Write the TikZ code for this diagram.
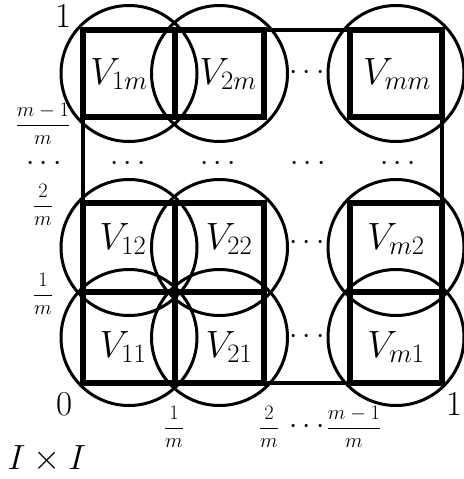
\RequirePackage{fix-cm}
\documentclass[tikz,border=0pt]{standalone}
\begin{document}
\begin{tikzpicture}[x=1pt,y=-1pt,
  cellbox/.style={line width=6pt, line join=miter},
  outerbox/.style={line width=4pt},
  circ/.style={line width=3pt},
  vlab/.style={font=\fontsize{38}{40}\selectfont, inner sep=0pt},
  big/.style={font=\fontsize{35}{38}\selectfont, inner sep=0pt},
  fr/.style={font=\fontsize{20.5}{22}\selectfont, inner sep=0pt},
  dt/.style={font=\fontsize{30}{32}\selectfont, inner sep=0pt}]
\useasboundingbox (0,0) rectangle (463,479);
% outer square
\draw[outerbox] (83,30) rectangle (442,383);
% cells
\foreach \xa/\xb in {83/175, 175/264, 350/442}{
  \foreach \ya/\yb in {30/117, 203/292, 292/383}{
    \draw[cellbox] (\xa,\ya) rectangle (\xb,\yb);
  }
}
% cell centres
\coordinate (c1m) at (129,73.5);
\coordinate (c2m) at (219.5,73.5);
\coordinate (cmm) at (396,73.5);
\coordinate (c12) at (129,247.5);
\coordinate (c22) at (219.5,247.5);
\coordinate (cm2) at (396,247.5);
\coordinate (c11) at (129,337.5);
\coordinate (c21) at (219.5,337.5);
\coordinate (cm1) at (396,337.5);
% circles
\foreach \n in {c1m,c2m,cmm,c12,c22,cm2,c11,c21,cm1}{
  \draw[circ] (\n) circle (68pt);
}
% labels
\node[vlab] (v1m) at (119,74) {$V_{1m}$};
\node[vlab] (v2m) at (228,74) {$V_{2m}$};
\node[vlab] (vmm) at (397,74) {$V_{mm}$};
\node[vlab] (v12) at (123,239) {$V_{12}$};
\node[vlab] (v22) at (229,239) {$V_{22}$};
\node[vlab] (vm2) at (396,239) {$V_{m2}$};
\node[vlab] (v11) at (123,347) {$V_{11}$};
\node[vlab] (v21) at (229,347) {$V_{21}$};
\node[vlab] (vm1) at (396,347) {$V_{m1}$};
% dots
\node[dt] (d1) at (307,73) {$\cdots$};
\node[dt] (d2) at (307,243) {$\cdots$};
\node[dt] (d3) at (307,337) {$\cdots$};
\node[dt] (d4) at (44,164) {$\cdots$};
\node[dt] (d5) at (128,164) {$\cdots$};
\node[dt] (d6) at (218,164) {$\cdots$};
\node[dt] (d7) at (308,164) {$\cdots$};
\node[dt] (d8) at (398,164) {$\cdots$};
\node[dt] (d9) at (307,427) {$\cdots$};
% axis labels
\node[big] (one1) at (64,16) {1};
\node[big] (zero) at (65,404) {0};
\node[big] (one2) at (455,404) {1};
\node[big] (ixi) at (47,459) {$I\times I$};
\node[fr] (fy1) at (43,124) {$\displaystyle\frac{m-1}{m}$};
\node[fr] (fy2) at (43,205) {$\displaystyle\frac{2}{m}$};
\node[fr] (fy3) at (43,294) {$\displaystyle\frac{1}{m}$};
\node[fr] (fx1) at (174,427) {$\displaystyle\frac{1}{m}$};
\node[fr] (fx2) at (269,427) {$\displaystyle\frac{2}{m}$};
\node[fr] (fx3) at (354,427) {$\displaystyle\frac{m-1}{m}$};
\end{tikzpicture}
\end{document}
